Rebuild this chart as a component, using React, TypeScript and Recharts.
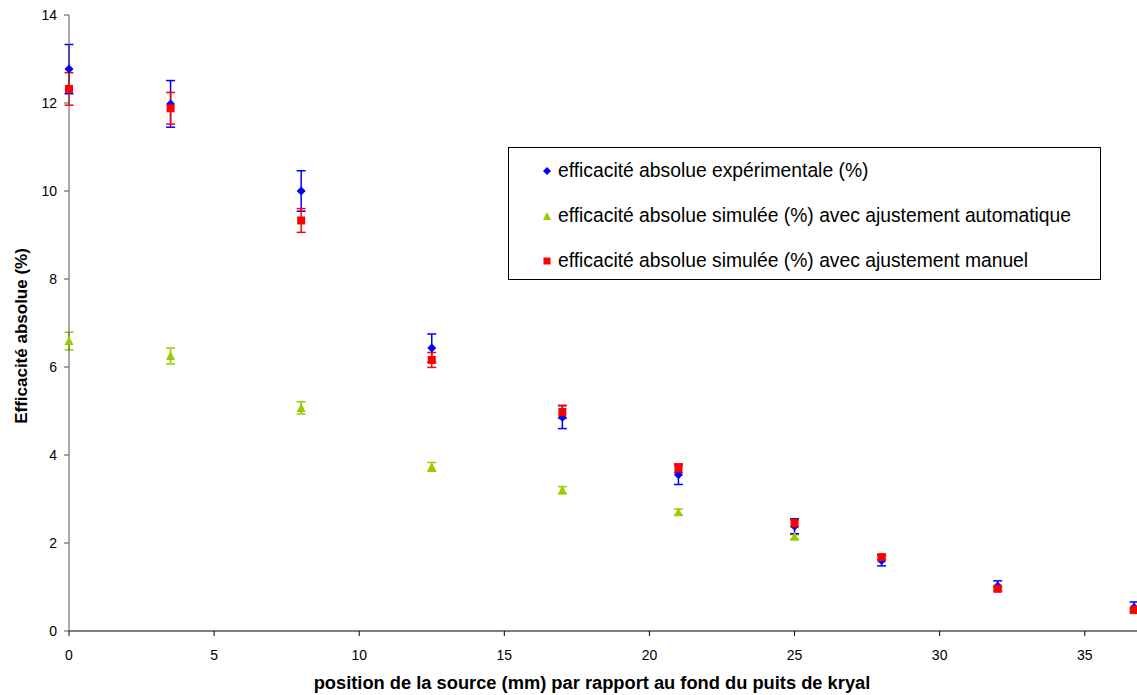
import {
  ErrorBar,
  Legend,
  Scatter,
  ScatterChart,
  XAxis,
  YAxis,
} from "recharts";

// position de la source (mm)
const positions = [0, 3.5, 8, 12.5, 17, 21, 25, 28, 32, 36.7];

const expValues = [12.77, 11.98, 10.0, 6.43, 4.86, 3.55, 2.38, 1.6, 1.02, 0.54];
const expErrors = [0.56, 0.53, 0.46, 0.32, 0.26, 0.22, 0.17, 0.12, 0.12, 0.12];

const autoValues = [6.59, 6.25, 5.07, 3.73, 3.2, 2.7, 2.14, 1.65, 0.98, 0.47];
const autoErrors = [0.2, 0.18, 0.14, 0.1, 0.08, 0.07, 0.05, 0.04, 0.03, 0.02];

const manualValues = [12.32, 11.88, 9.33, 6.16, 4.98, 3.7, 2.45, 1.68, 0.96, 0.48];
const manualErrors = [0.37, 0.36, 0.27, 0.17, 0.15, 0.1, 0.08, 0.05, 0.04, 0.03];

const xTicks = [0, 5, 10, 15, 20, 25, 30, 35];
const yTicks = [0, 2, 4, 6, 8, 10, 12, 14];

const SERIES_NAMES = [
  "efficacité absolue expérimentale (%)",
  "efficacité absolue simulée (%) avec ajustement automatique",
  "efficacité absolue simulée (%) avec ajustement manuel",
];

const BLUE = "#0000FF";
const GREEN = "#99CC00";
const RED = "#FF0000";

const toRows = (values: number[], errors: number[]) =>
  positions.map((x, i) => ({ x, y: values[i], err: errors[i] }));

const expData = toRows(expValues, expErrors);
const autoData = toRows(autoValues, autoErrors);
const manualData = toRows(manualValues, manualErrors);

const Diamond = (props: any) => {
  const { cx, cy } = props;
  const r = 4.5;
  return (
    <polygon
      points={`${cx},${cy - r} ${cx + r},${cy} ${cx},${cy + r} ${cx - r},${cy}`}
      fill={BLUE}
    />
  );
};

const Triangle = (props: any) => {
  const { cx, cy } = props;
  return (
    <polygon
      points={`${cx},${cy - 5} ${cx + 4.5},${cy + 4} ${cx - 4.5},${cy + 4}`}
      fill={GREEN}
    />
  );
};

const Square = (props: any) => {
  const { cx, cy } = props;
  return <rect x={cx - 4} y={cy - 4} width={8} height={8} fill={RED} />;
};

const legendMarker = (i: number) => {
  if (i === 0)
    return <polygon points="5,1 9,5 5,9 1,5" fill={BLUE} />;
  if (i === 1)
    return <polygon points="5,1 9,9 1,9" fill={GREEN} />;
  return <rect x={1.5} y={1.5} width={7} height={7} fill={RED} />;
};

const renderLegend = () => (
  <div
    style={{
      border: "1px solid #000",
      background: "#fff",
      width: 593,
      height: 133,
      boxSizing: "border-box",
      paddingTop: 0,
      paddingLeft: 33,
    }}
  >
    {SERIES_NAMES.map((name, i) => (
      <div
        key={name}
        style={{
          display: "flex",
          alignItems: "center",
          height: 45,
          fontSize: 19.3,
          color: "#000",
          whiteSpace: "nowrap",
        }}
      >
        <svg width={10} height={10} style={{ marginRight: 6 }}>
          {legendMarker(i)}
        </svg>
        <span>{name}</span>
      </div>
    ))}
  </div>
);

export default function App() {
  return (
    <div
      style={{
        position: "absolute",
        left: 0,
        top: 0,
        fontFamily: "'Liberation Sans', Arial, sans-serif",
      }}
    >
      <ScatterChart
        width={1137}
        height={695}
        margin={{ top: 15, right: 0, bottom: 0, left: 0 }}
      >
        <XAxis
          type="number"
          dataKey="x"
          domain={[0, 36.8]}
          ticks={xTicks}
          height={64}
          stroke="#000"
          tickSize={5}
          tickMargin={14}
          tick={{ fill: "#000", fontSize: 14 }}
          label={{
            value: "position de la source (mm) par rapport au fond du puits de kryal",
            position: "center",
            dx: -11,
            dy: 20,
            fill: "#000",
            fontSize: 18.3,
            fontWeight: "bold",
          }}
        />
        <YAxis
          type="number"
          dataKey="y"
          domain={[0, 14]}
          ticks={yTicks}
          width={69}
          stroke="#555"
          tickSize={5}
          tickMargin={7}
          tick={{ fill: "#000", fontSize: 14 }}
          label={{
            value: "Efficacité absolue (%)",
            angle: -90,
            position: "center",
            dx: -14,
            dy: 13,
            fill: "#000",
            fontSize: 17,
            fontWeight: "bold",
          }}
        />
        <Legend
          layout="vertical"
          align="center"
          verticalAlign="middle"
          content={renderLegend}
          wrapperStyle={{ position: "absolute", left: 508, top: 147, width: 593 }}
        />
        <Scatter
          name={SERIES_NAMES[1]}
          data={autoData}
          shape={Triangle}
          isAnimationActive={false}
        >
          <ErrorBar dataKey="err" direction="y" width={4.5} stroke={GREEN} strokeWidth={1.5} />
        </Scatter>
        <Scatter
          name={SERIES_NAMES[0]}
          data={expData}
          shape={Diamond}
          isAnimationActive={false}
        >
          <ErrorBar dataKey="err" direction="y" width={4.5} stroke={BLUE} strokeWidth={1.5} />
        </Scatter>
        <Scatter
          name={SERIES_NAMES[2]}
          data={manualData}
          shape={Square}
          isAnimationActive={false}
        >
          <ErrorBar dataKey="err" direction="y" width={4.5} stroke={RED} strokeWidth={1.5} />
        </Scatter>
      </ScatterChart>
    </div>
  );
}
